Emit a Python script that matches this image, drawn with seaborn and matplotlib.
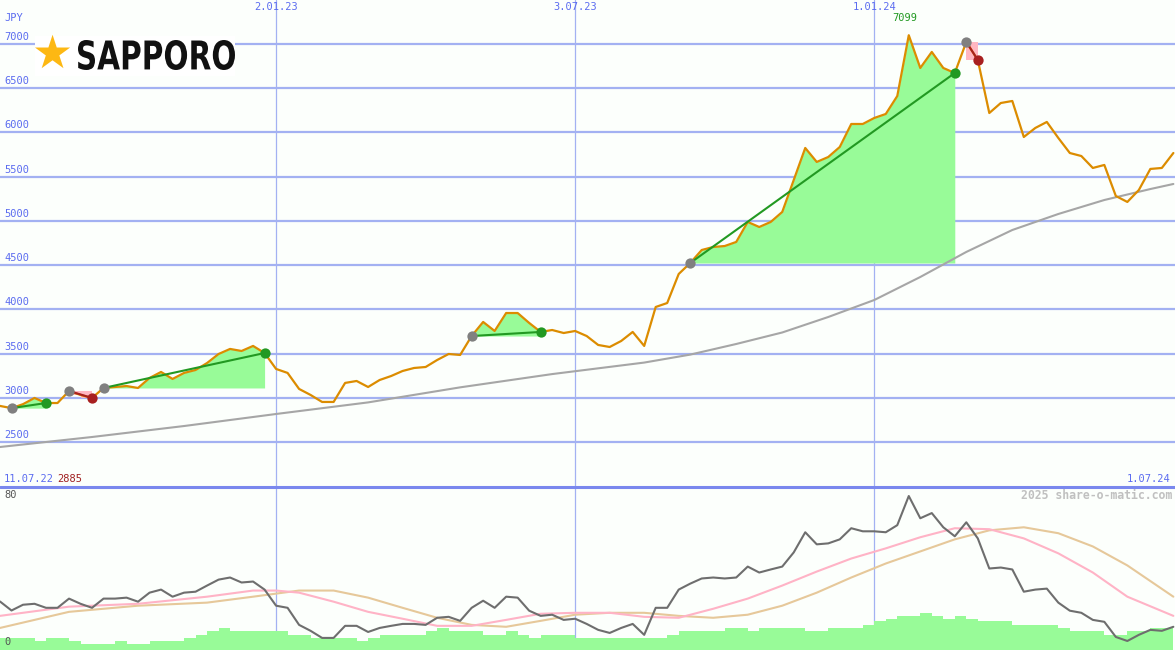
import pandas as pd
import matplotlib.pyplot as plt
import matplotlib.transforms as mtransforms
from matplotlib.patches import Rectangle, PathPatch
from matplotlib.lines import Line2D
from matplotlib.textpath import TextPath
from matplotlib.font_manager import FontProperties
import seaborn as sns

# ------------------------------------------------------------------
# data (weekly, week k = 11.07.22 + k weeks)
# ------------------------------------------------------------------
start = pd.Timestamp('2022-07-11')
weeks = list(range(1, 104))

price = [2910, 2885, 2930, 3000, 2943, 2943, 3079, 3034, 3000, 3113,
         3124, 3135, 3113, 3226, 3294, 3215, 3283, 3316, 3395, 3497,
         3554, 3531, 3588, 3508, 3328, 3283, 3102, 3034, 2955, 2955,
         3170, 3192, 3124, 3203, 3248, 3305, 3339, 3350, 3429, 3497,
         3486, 3700, 3859, 3757, 3960, 3960, 3848, 3746, 3768, 3734,
         3757, 3700, 3599, 3576, 3644, 3746, 3588, 4028, 4073, 4401,
         4525, 4672, 4706, 4717, 4763, 4989, 4932, 4989, 5102, 5463,
         5825, 5667, 5723, 5836, 6096, 6096, 6164, 6209, 6412, 7099,
         6729, 6910, 6729, 6672, 7023, 6819, 6220, 6333, 6356, 5949,
         6051, 6119, 5938, 5768, 5734, 5599, 5633, 5282, 5215, 5350,
         5588, 5599, 5768]

# long moving average (grey line)
ma_weeks = [1, 9, 17, 25, 33, 41, 49, 57, 61, 65, 69, 73, 77, 81, 85, 89, 93, 97, 101, 103]
ma_vals = [2446, 2559, 2683, 2819, 2950, 3120, 3270, 3400, 3490, 3610, 3740,
           3915, 4107, 4367, 4650, 4898, 5079, 5237, 5361, 5418]

# signals: (entry week, exit week)
trades = [(2, 5), (7, 9), (10, 24), (42, 48), (61, 84), (85, 86)]

# lower panel
osc = [25.3, 20.6, 23.6, 24.1, 22.0, 22.0, 26.8, 24.1, 22.0, 26.8,
       26.8, 27.3, 25.2, 29.9, 31.5, 27.8, 29.9, 30.4, 33.6, 36.7,
       37.8, 35.2, 35.7, 31.5, 23.1, 22.0, 13.1, 10.0, 6.3, 6.3,
       12.6, 12.6, 9.4, 11.5, 12.6, 13.6, 13.6, 13.1, 16.8, 17.3,
       15.2, 22.0, 25.7, 22.0, 27.8, 27.3, 20.5, 17.8, 18.4, 15.7,
       16.3, 13.6, 10.5, 8.9, 11.5, 13.6, 7.9, 22.0, 22.0, 31.5,
       34.6, 37.3, 37.8, 37.3, 37.8, 43.5, 40.4, 42.0, 43.5, 50.9,
       61.4, 55.1, 55.6, 57.7, 63.5, 61.9, 61.9, 61.4, 65.1, 80.3,
       68.7, 71.4, 64.0, 59.3, 66.6, 58.2, 42.5, 43.0, 42.0, 30.4,
       31.5, 32.0, 24.7, 20.5, 19.4, 15.7, 14.7, 6.8, 4.7, 7.9,
       10.5, 10.0, 12.1]

sig_weeks = [1, 7, 13, 19, 23, 25, 27, 30, 33, 36, 39, 42, 45, 48, 51, 54,
             57, 60, 63, 66, 69, 72, 75, 78, 81, 84, 87, 90, 93, 96, 99, 103]
sig_fast = [17.8, 22.6, 24.1, 27.8, 31.0, 31.0, 29.9, 25.2, 19.9, 16.3, 12.6, 12.6,
            15.7, 18.9, 19.4, 19.4, 17.3, 16.8, 21.5, 26.8, 33.6, 40.9, 47.7, 53.0,
            58.8, 63.5, 63.0, 58.2, 50.4, 40.4, 27.8, 17.8]
sig_slow = [11.5, 19.9, 23.1, 24.7, 27.8, 29.4, 31.0, 31.0, 27.3, 22.0, 16.8, 13.1,
            12.1, 15.2, 18.4, 19.4, 19.4, 17.8, 16.8, 18.4, 23.1, 29.9, 37.8, 45.1,
            51.4, 57.7, 62.4, 64.0, 60.9, 54.0, 44.1, 27.8]

vol = [6.5, 6.5, 6.5, 4.7, 6.5, 6.5, 4.7, 3.2, 3.2, 3.2,
       4.7, 3.2, 3.2, 4.7, 4.7, 4.7, 6.5, 7.9, 10.0, 11.7,
       10.0, 10.0, 10.0, 10.0, 10.0, 7.9, 7.9, 6.5, 6.5, 6.5,
       6.5, 4.7, 6.5, 7.9, 7.9, 7.9, 7.9, 10.0, 11.7, 10.0,
       10.0, 10.0, 7.9, 7.9, 10.0, 7.9, 6.5, 7.9, 7.9, 7.9,
       6.5, 6.5, 6.5, 6.5, 6.5, 6.5, 6.5, 6.5, 7.9, 10.0,
       10.0, 10.0, 10.0, 11.7, 11.7, 10.0, 11.7, 11.7, 11.7, 11.7,
       10.0, 10.0, 11.7, 11.7, 11.7, 13.1, 14.9, 16.3, 17.8, 17.8,
       19.3, 17.8, 16.3, 17.8, 16.3, 14.9, 14.9, 14.9, 13.1, 13.1,
       13.1, 13.1, 11.7, 10.0, 10.0, 10.0, 7.9, 7.9, 10.0, 10.0,
       11.7, 11.7]

y_ticks = [2500, 3000, 3500, 4000, 4500, 5000, 5500, 6000, 6500, 7000]
top_dates = ['2023-01-02', '2023-07-03', '2024-01-01']
top_labels = ['2.01.23', '3.07.23', '1.01.24']


def wk(k):
    return start + pd.Timedelta(days=7 * k)


df = pd.DataFrame({'date': [wk(k) for k in weeks], 'price': price, 'osc': osc})
df_ma = pd.DataFrame({'date': [wk(k) for k in ma_weeks], 'ma': ma_vals})
df_sig = pd.DataFrame({'date': [wk(k) for k in sig_weeks], 'fast': sig_fast, 'slow': sig_slow})

# ------------------------------------------------------------------
# style
# ------------------------------------------------------------------
sns.set_style('white')
plt.rcParams['font.family'] = ['DejaVu Sans Mono', 'DejaVu Sans']

bg = '#fcfffc'
grid_c = '#a3b1f2'
blue_txt = '#5b6cf0'
W, H = 1175, 650

fig = plt.figure(figsize=(W / 100, H / 100), dpi=100)
fig.patch.set_facecolor(bg)
ax = fig.add_axes([0, 163 / H, 1, 487 / H])
ax2 = fig.add_axes([0, 0, 1, 163 / H], sharex=ax)
for a in (ax, ax2):
    a.set_facecolor(bg)
    for sp in a.spines.values():
        sp.set_visible(False)

# ------------------------------------------------------------------
# main panel
# ------------------------------------------------------------------
tr = mtransforms.blended_transform_factory(ax.transAxes, ax.transData)
for v in y_ticks:
    ax.axhline(v, color=grid_c, lw=1.6, zorder=1)
    ax.annotate(str(v), (0.004, v), xycoords=tr, xytext=(0, 1.5), textcoords='offset points',
                ha='left', va='bottom', fontsize=7.5, color=blue_txt)
for d, lab in zip(top_dates, top_labels):
    ax.axvline(pd.Timestamp(d), color=grid_c, lw=0.9, zorder=1)
    ax2.axvline(pd.Timestamp(d), color=grid_c, lw=0.9, zorder=1)
    ax.text(pd.Timestamp(d), 0.996, lab, transform=ax.get_xaxis_transform(),
            ha='center', va='top', fontsize=7.5, color=blue_txt)

for s, e in trades:
    seg = df.iloc[s - 1:e]
    base = price[s - 1]
    win = price[e - 1] > base
    if win:
        ax.fill_between(seg['date'], seg['price'], base, where=seg['price'] >= base,
                        interpolate=True, color='#98fb98', lw=0, zorder=2)
    else:
        ax.fill_between(seg['date'], seg['price'], base, step='pre',
                        color='#ffb6c1', lw=0, zorder=2)
    lc = '#229922' if win else '#a82020'
    ax.plot([wk(s), wk(e)], [base, price[e - 1]], color=lc, lw=1.5, zorder=6)
    ax.scatter([wk(s)], [base], s=55, color='#808080', lw=0, zorder=7)
    ax.scatter([wk(e)], [price[e - 1]], s=55, color=lc, lw=0, zorder=7)

sns.lineplot(data=df_ma, x='date', y='ma', ax=ax, color='#a6a6a6', lw=1.5, zorder=4)
sns.lineplot(data=df, x='date', y='price', ax=ax, color='#dc8c00', lw=1.6, zorder=5)

top_i = price.index(max(price))
ax.annotate(str(max(price)), (wk(weeks[top_i]), max(price)), xytext=(-3, 9),
            textcoords='offset points', ha='center', va='bottom', fontsize=7.5, color='#229922')

ax.text(0.004, 0.963, 'JPY', transform=ax.transAxes, ha='left', va='center',
        fontsize=7.5, color=blue_txt)
ax.text(0.003, 0.017, '11.07.22', transform=ax.transAxes, ha='left', va='center',
        fontsize=7.5, color=blue_txt)
ax.text(0.0485, 0.017, str(min(price)), transform=ax.transAxes, ha='left', va='center',
        fontsize=7.5, color='#a02020')
ax.text(0.996, 0.017, '1.07.24', transform=ax.transAxes, ha='right', va='center',
        fontsize=7.5, color=blue_txt)

ax.set_ylim(1994, 7497)
ax.set(xlabel='', ylabel='')

# ------------------------------------------------------------------
# lower panel
# ------------------------------------------------------------------
ax2.bar([wk(k) for k in weeks[:len(vol)]], vol, width=7, align='edge',
        color='#98fb98', lw=0, zorder=1)
sns.lineplot(data=df_sig, x='date', y='slow', ax=ax2, color='#e6c89a', lw=1.5, zorder=3)
sns.lineplot(data=df_sig, x='date', y='fast', ax=ax2, color='#ffb3c6', lw=1.5, zorder=3)
sns.lineplot(data=df, x='date', y='osc', ax=ax2, color='#6e6e6e', lw=1.5, zorder=4)
ax2.set_ylim(0, 85)
ax2.set(xlabel='', ylabel='')
ax2.text(0.004, 0.951, '80', transform=ax2.transAxes, ha='left', va='center',
         fontsize=7.5, color='#555555')
ax2.text(0.004, 0.049, '0', transform=ax2.transAxes, ha='left', va='center',
         fontsize=7.5, color='#555555')
ax2.text(0.9975, 0.948, '2025 share-o-matic.com', transform=ax2.transAxes, ha='right',
         va='center', fontsize=8.3, fontweight='bold', color='#c0c0c0')

ax.set_xlim(wk(1), pd.Timestamp('2024-07-02'))
for a in (ax, ax2):
    a.tick_params(left=False, bottom=False, labelleft=False, labelbottom=False)

# panel separator
fig.add_artist(Line2D([0, 1], [163 / H, 163 / H], transform=fig.transFigure,
                      color='#7a88ee', lw=2.2))

# logo: white box, star, condensed word mark (text path squeezed to the box)
fig.add_artist(Rectangle((35 / W, 1 - 76 / H), 200 / W, 40 / H, transform=fig.transFigure,
                         facecolor='white', edgecolor='none'))
fig.text(52 / W, 1 - 55 / H, '\u2605', fontsize=33, color='#fdb813', ha='center', va='center',
         family=['DejaVu Sans'])
tp = TextPath((0, 0), 'SAPPORO', size=1, prop=FontProperties(family='DejaVu Sans', weight='bold'))
ext = tp.get_extents()
box_w, box_h = 157, 30          # pixel size of the word mark
sx = box_w / ext.width
sy = box_h / ext.height
logo_tf = mtransforms.Affine2D().translate(-ext.x0, -ext.y0).scale(sx, sy).translate(78, H - 70)
fig.add_artist(PathPatch(tp, transform=logo_tf, facecolor='#111111', edgecolor='none'))

fig.savefig('out.png', dpi=100, facecolor=bg)
